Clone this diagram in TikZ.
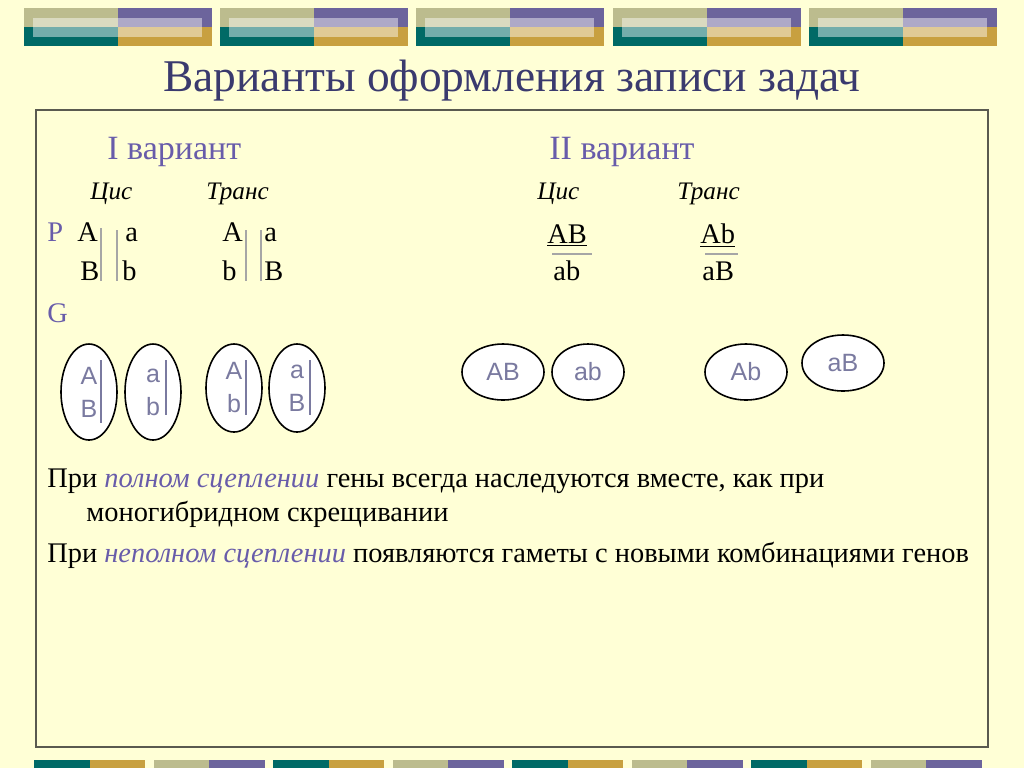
\documentclass[tikz,border=0pt]{standalone}
\usepackage{fontspec}
\setmainfont{Liberation Serif}
\setsansfont{Liberation Sans}
\usetikzlibrary{shapes.geometric, positioning, calc}
\definecolor{slidebg}{RGB}{255, 255, 214}
\definecolor{titleblue}{RGB}{58, 58, 110}
\definecolor{varpurple}{RGB}{104, 92, 170}
\definecolor{gametegray}{RGB}{122, 122, 160}
\definecolor{barkhaki}{RGB}{188, 188, 142}
\definecolor{barpurple}{RGB}{108, 100, 156}
\definecolor{barteal}{RGB}{0, 106, 102}
\definecolor{bargold}{RGB}{200, 160, 64}
\definecolor{framegray}{RGB}{90, 90, 80}

\tikzset{
  txt/.style={anchor=base west, inner sep=0pt, font=\fontsize{14.2}{17}\selectfont},
  hdr/.style={txt, text=varpurple, font=\fontsize{17}{20}\selectfont},
  kind/.style={txt, font=\fontsize{12.6}{15}\selectfont\itshape},
  chromline/.style={draw=gray!70, line width=0.6pt},
  gametev/.style={ellipse, draw, thick, fill=white, minimum width=28pt, minimum height=48pt, inner sep=0pt, align=center,
    text=gametegray, font=\sffamily\fontsize{12.5}{16.5}\selectfont},
  gameteh/.style={ellipse, draw, thick, fill=white, minimum width=41pt, minimum height=28pt, inner sep=0pt,
    text=gametegray, font=\sffamily\fontsize{12.5}{14}\selectfont}
}

\begin{document}
\begin{tikzpicture}[x=0.5pt, y=-0.5pt]
\useasboundingbox (0,0) rectangle (1024,768);
\fill[slidebg] (0,0) rectangle (1024,768);

% Top banner blocks
\foreach \bx in {24,220,416,613,809} {
  \fill[barkhaki] (\bx,8) rectangle (\bx+94,27);
  \fill[barpurple] (\bx+94,8) rectangle (\bx+188,27);
  \fill[barteal] (\bx,27) rectangle (\bx+94,46);
  \fill[bargold] (\bx+94,27) rectangle (\bx+188,46);
  \fill[white, opacity=0.45] (\bx+9,18) rectangle (\bx+178,37);
}

% Bottom bars
\foreach \i in {0,...,7} {
  \pgfmathsetmacro{\bx}{34+119.5*\i}
  \ifodd\i
    \fill[barkhaki] (\bx,760) rectangle (\bx+55.5,768);
    \fill[barpurple] (\bx+55.5,760) rectangle (\bx+111,768);
  \else
    \fill[barteal] (\bx,760) rectangle (\bx+55.5,768);
    \fill[bargold] (\bx+55.5,760) rectangle (\bx+111,768);
  \fi
}

% Title and frame
\node[text=titleblue, font=\fontsize{22.7}{26}\selectfont] (title) at (512,81) {Варианты оформления записи задач};
\draw[framegray, line width=1pt] (36,110) rectangle (988,747);

% Variant headers
\node[hdr] (v1) at (107,159) {I вариант};
\node[hdr] (v2) at (549,159) {II вариант};
\node[kind] (cis1) at (90,199) {Цис};
\node[kind] (trans1) at (206,199) {Транс};
\node[kind] (cis2) at (537,199) {Цис};
\node[kind] (trans2) at (677,199) {Транс};

% Variant I: parents
\node[txt, text=varpurple] (P) at (47,241) {P};
\node[txt] (cA) at (77,241) {A};
\node[txt] (ca) at (125,241) {a};
\node[txt] (cB) at (80,280) {B};
\node[txt] (cb) at (122,280) {b};
\draw[chromline] (101,228) -- (101,281);
\draw[chromline] (117,230) -- (117,281);
\node[txt] (tA) at (222,241) {A};
\node[txt] (ta) at (264,241) {a};
\node[txt] (tb) at (222,280) {b};
\node[txt] (tB) at (264,280) {B};
\draw[chromline] (246,230) -- (246,281);
\draw[chromline] (261,230) -- (261,281);

% Variant II: parents
\node[txt] (fAB) at (547,243) {\underline{AB}};
\node[txt] (fab) at (553,280) {ab};
\draw[chromline] (552,254) -- (592,254);
\node[txt] (fAb) at (700,243) {\underline{Ab}};
\node[txt] (faB) at (702,280) {aB};
\draw[chromline] (705,254) -- (738,254);

% Gametes
\node[txt, text=varpurple] (G) at (47,322) {G};
\node[gametev] (g1) at (89,392) {A\\B};
\node[gametev] (g2) at (153,392) {a\\b};
\node[gametev, minimum height=44pt] (g3) at (234,388) {A\\b};
\node[gametev, minimum height=44pt] (g4) at (297,388) {a\\B};
\draw[gametegray, line width=0.6pt] (101,360) -- (101,423);
\draw[gametegray, line width=0.6pt] (166,360) -- (166,415);
\draw[gametegray, line width=0.6pt] (246,360) -- (246,415);
\draw[gametegray, line width=0.6pt] (310,360) -- (310,415);

\node[gameteh] (h1) at (503,372) {AB};
\node[gameteh, minimum width=36pt] (h2) at (588,372) {ab};
\node[gameteh] (h3) at (746,372) {Ab};
\node[gameteh] (h4) at (843,363) {aB};

% Conclusions
\node[txt] (full) at (47,487) {При \textit{\textcolor{varpurple}{полном сцеплении}} гены всегда наследуются вместе, как при};
\node[txt] (full2) at (86,521) {моногибридном скрещивании};
\node[txt] (part) at (47,562) {При \textit{\textcolor{varpurple}{неполном сцеплении}} появляются гаметы с новыми комбинациями генов};
\end{tikzpicture}
\end{document}
